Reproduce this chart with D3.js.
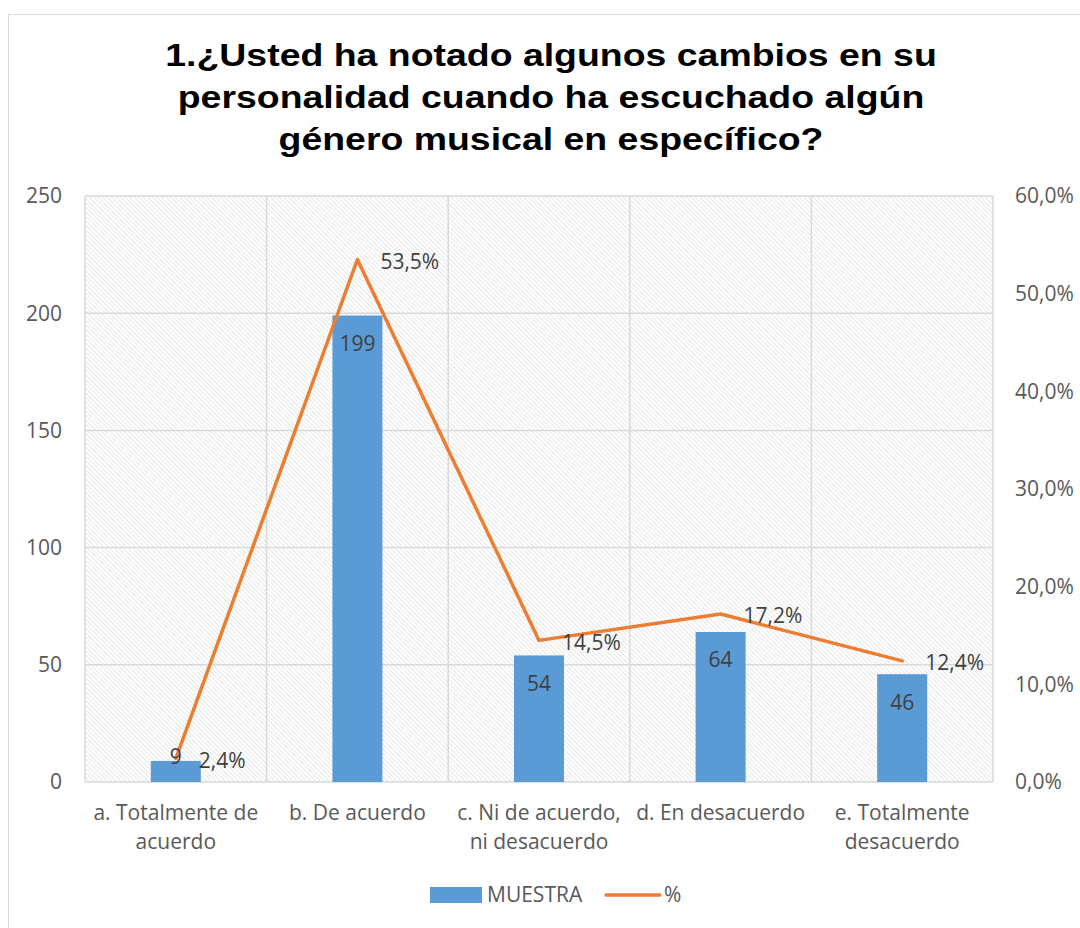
<!DOCTYPE html>
<html><head><meta charset="utf-8">
<script src="https://cdn.jsdelivr.net/npm/d3@7"></script>
<style>body{margin:0;background:#fff}svg{display:block}</style>
</head><body>
<script>
const categories = [["a. Totalmente de","acuerdo"],["b. De acuerdo"],["c. Ni de acuerdo,","ni desacuerdo"],["d. En desacuerdo"],["e. Totalmente","desacuerdo"]];
const muestra = [9, 199, 54, 64, 46];
const pct = [2.4, 53.5, 14.5, 17.2, 12.4];
const leftTicks = [0, 50, 100, 150, 200, 250];
const rightTicks = [0, 10, 20, 30, 40, 50, 60];
const titleLines = ["1.¿Usted ha notado algunos cambios en su","personalidad cuando ha escuchado algún","género musical en específico?"];

const W = 1080, H = 928;
const svg = d3.select("body").append("svg").attr("width", W).attr("height", H);
const font = "'Open Sans', 'Noto Sans', sans-serif";
const fs = 21;
const gray = "#595959";

const defs = svg.append("defs");
const pat = defs.append("pattern").attr("id","hatch").attr("patternUnits","userSpaceOnUse")
  .attr("width",3.2).attr("height",3.2).attr("patternTransform","rotate(-45)");
pat.append("line").attr("x1",0).attr("y1",0).attr("x2",0).attr("y2",3.2)
  .attr("stroke","#dcdcdc").attr("stroke-width",1.3);

svg.append("rect").attr("x",8.5).attr("y",14.5).attr("width",W-8).attr("height",H-10)
  .attr("fill","#fff").attr("stroke","#d9d9d9");

const m = {l:85, r:993, t:196, b:782};
const x = d3.scaleBand().domain(d3.range(categories.length)).range([m.l, m.r]);
const y = d3.scaleLinear().domain([0,250]).range([m.b, m.t]);
const y2 = d3.scaleLinear().domain([0,60]).range([m.b, m.t]);

svg.append("rect").attr("x",m.l).attr("y",m.t).attr("width",m.r-m.l).attr("height",m.b-m.t)
  .attr("fill","url(#hatch)");

// grid
svg.append("g").selectAll("line").data(leftTicks).join("line")
  .attr("x1",m.l).attr("x2",m.r).attr("y1",d=>y(d)).attr("y2",d=>y(d))
  .attr("stroke","#d9d9d9").attr("stroke-width",1.5);
svg.append("g").selectAll("line").data(d3.range(categories.length+1)).join("line")
  .attr("x1",d=>m.l + d*x.bandwidth()).attr("x2",d=>m.l + d*x.bandwidth())
  .attr("y1",m.t).attr("y2",m.b).attr("stroke","#d9d9d9").attr("stroke-width",1.5);

// title
svg.append("g").selectAll("text").data(titleLines).join("text")
  .attr("transform",(d,i)=>`translate(551,${66 + i*42}) scale(1.17,1)`).attr("text-anchor","middle")
  .attr("font-family","'Liberation Sans', Arial, sans-serif").attr("font-weight","bold")
  .attr("font-size",32).attr("fill","#000").text(d=>d);

// left axis labels
svg.append("g").selectAll("text").data(leftTicks).join("text")
  .attr("x",62).attr("y",d=>y(d)).attr("dy","0.35em").attr("text-anchor","end")
  .attr("font-family",font).attr("font-size",fs).attr("fill",gray).text(d=>d);
// right axis labels
svg.append("g").selectAll("text").data(rightTicks).join("text")
  .attr("x",1015).attr("y",d=>y2(d)).attr("dy","0.35em").attr("text-anchor","start")
  .attr("font-family",font).attr("font-size",fs).attr("fill",gray)
  .text(d=>d.toFixed(1).replace(".",",")+"%");

// bars
const bw = 50;
svg.append("g").selectAll("rect").data(muestra).join("rect")
  .attr("x",(d,i)=>x(i)+x.bandwidth()/2-bw/2).attr("width",bw)
  .attr("y",d=>y(d)).attr("height",d=>y(0)-y(d)).attr("fill","#5B9BD5");

// line
const line = d3.line().x((d,i)=>x(i)+x.bandwidth()/2).y(d=>y2(d));
svg.append("path").datum(pct).attr("d",line).attr("fill","none")
  .attr("stroke","#ED7D31").attr("stroke-width",3.5).attr("stroke-linejoin","round").attr("stroke-linecap","round");

// bar labels
svg.append("g").selectAll("text").data(muestra).join("text")
  .attr("x",(d,i)=>x(i)+x.bandwidth()/2).attr("y",d=>Math.min(y(d)+28, y(0)-25)).attr("dy","0.35em").attr("text-anchor","middle")
  .attr("font-family",font).attr("font-size",fs).attr("fill","#404040").text(d=>d);

// line labels
svg.append("g").selectAll("text").data(pct).join("text")
  .attr("x",(d,i)=>x(i)+x.bandwidth()/2+23).attr("y",d=>y2(d)+2).attr("dy","0.35em")
  .attr("font-family",font).attr("font-size",fs).attr("fill","#404040")
  .text(d=>d.toFixed(1).replace(".",",")+"%");

// x labels
const xl = svg.append("g").selectAll("text").data(categories).join("text")
  .attr("text-anchor","middle").attr("font-family",font).attr("font-size",fs).attr("fill",gray);
xl.each(function(d,i){
  d3.select(this).selectAll("tspan").data(d).join("tspan")
    .attr("x",x(i)+x.bandwidth()/2).attr("y",(t,j)=>820 + j*29).text(t=>t);
});

// legend
const lg = svg.append("g").attr("font-family",font).attr("font-size",fs).attr("fill",gray);
lg.append("rect").attr("x",430).attr("y",887).attr("width",52).attr("height",16).attr("fill","#5B9BD5");
lg.append("text").attr("x",487).attr("y",895).attr("dy","0.35em").text("MUESTRA");
lg.append("line").attr("x1",606).attr("x2",660).attr("y1",895).attr("y2",895)
  .attr("stroke","#ED7D31").attr("stroke-width",3.5).attr("stroke-linecap","round");
lg.append("text").attr("x",664).attr("y",895).attr("dy","0.35em").text("%");
</script>
</body></html>
